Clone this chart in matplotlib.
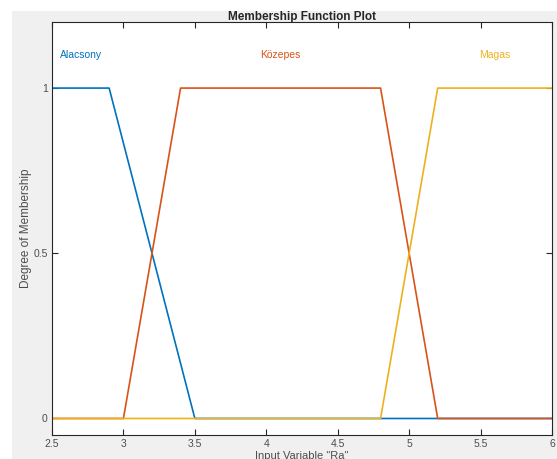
import matplotlib
matplotlib.use("Agg")
import matplotlib.pyplot as plt
import numpy as np
from matplotlib.patches import Rectangle

plt.rcParams['font.family'] = ['Liberation Sans', 'DejaVu Sans']

x_range = [2.5, 6.0]
mf_names = ["Alacsony", "Közepes", "Magas"]
mf_params = {
    "Alacsony": [2.5, 2.5, 2.9, 3.5],
    "Közepes": [3.0, 3.4, 4.8, 5.2],
    "Magas": [4.8, 5.2, 6.0, 6.0],
}
label_x = {"Alacsony": 2.7, "Közepes": 4.1, "Magas": 5.6}
colors = ["#0072BD", "#D95319", "#EDB120"]
xticks = [2.5, 3, 3.5, 4, 4.5, 5, 5.5, 6]
xtick_labels = ["2.5", "3", "3.5", "4", "4.5", "5", "5.5", "6"]
yticks = [0, 0.5, 1]
ytick_labels = ["0", "0.5", "1"]


def trapmf(x, p):
    a, b, c, d = p
    y = np.ones_like(x)
    if b > a:
        y = np.minimum(y, (x - a) / (b - a))
    else:
        y = np.where(x < a, 0.0, y)
    if d > c:
        y = np.minimum(y, (d - x) / (d - c))
    else:
        y = np.where(x > d, 0.0, y)
    return np.clip(y, 0, 1)


W, H = 557, 459
fig = plt.figure(figsize=(W / 100, H / 100), dpi=100)
fig.patch.set_facecolor("white")
fig.patches.append(Rectangle((12 / W, 0), 1 - 12 / W, 1 - 11 / H,
                             transform=fig.transFigure, facecolor="#f0f0f0",
                             edgecolor="none", zorder=-10))

ax = fig.add_axes([52 / W, (H - 435) / H, 500 / W, 413 / H])
ax.set_facecolor("white")

xs = np.linspace(x_range[0], x_range[1], 3501)
for name, col in zip(mf_names, colors):
    ax.plot(xs, trapmf(xs, mf_params[name]), color=col, lw=1.2)
    ax.text(label_x[name], 1.1, name, color=col, ha="center", va="center",
            fontsize=7.5)

ax.set_xlim(x_range)
ax.set_ylim(-0.05, 1.2)
ax.set_xticks(xticks)
ax.set_xticklabels(xtick_labels)
ax.set_yticks(yticks)
ax.set_yticklabels(ytick_labels)
ax.tick_params(direction="in", top=True, right=True, length=4, width=0.8,
               colors="#262626", labelsize=7.5, labelcolor="#4d4d4d", pad=3)
for s in ax.spines.values():
    s.set_color("#262626")
    s.set_linewidth(0.8)

ax.set_title("Membership Function Plot", fontsize=8.5, fontweight="bold",
             color="#262626", pad=1.5)
ax.set_xlabel('Input Variable "Ra"', fontsize=8, color="#4d4d4d", labelpad=1)
ax.set_ylabel("Degree of Membership", fontsize=8.5, color="#4d4d4d", labelpad=1)

fig.savefig("out.png", dpi=100)
